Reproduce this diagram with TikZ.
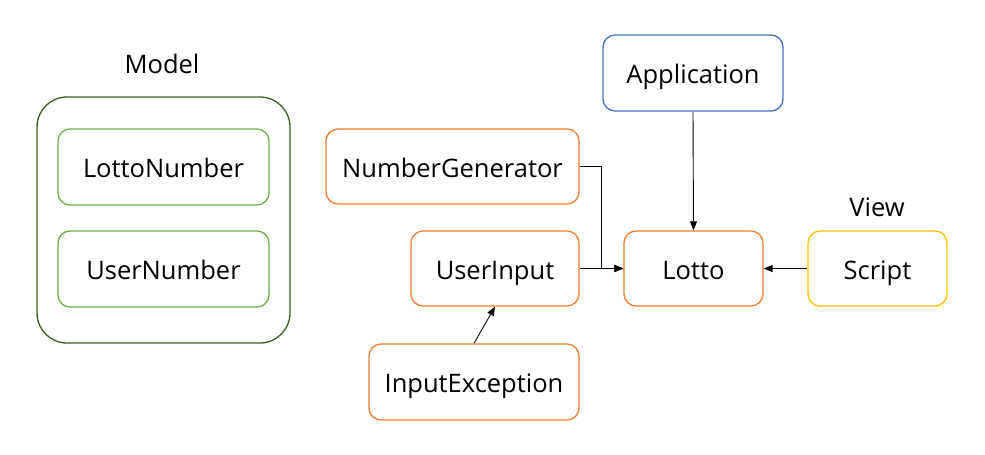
\documentclass[tikz,border=0pt]{standalone}
\usepackage{fontspec}
\setmainfont{Open Sans}
\usetikzlibrary{arrows.meta}
\definecolor{orng}{HTML}{ED7D31}
\definecolor{grn}{HTML}{70AD47}
\definecolor{dgrn}{HTML}{3B5E22}
\definecolor{blu}{HTML}{4472C4}
\definecolor{ylw}{HTML}{FFC000}
\tikzset{
  box/.style={draw, rounded corners=12pt, line width=1.3pt, inner sep=0pt, font=\fontsize{25.5}{30}\selectfont, text height=24pt, text depth=3pt},
  obox/.style={box, draw=orng},
  gbox/.style={box, draw=grn},
  lbl/.style={font=\fontsize{25.5}{30}\selectfont, inner sep=0pt},
  conn/.style={draw=black, line width=0.9pt, -{Triangle[length=9pt,width=7pt]}},
}
\begin{document}
\begin{tikzpicture}[x=1pt,y=-1pt]
\useasboundingbox (0,0) rectangle (985,455);
% Model group
\node[draw=dgrn, line width=1.3pt, rounded corners=30pt, minimum width=253pt, minimum height=246pt] (model) at (163.5,220) {};
\node[lbl] (modellbl) at (162,64) {Model};
\node[gbox, minimum width=211pt, minimum height=76pt] (lottonum) at (163.5,167) {LottoNumber};
\node[gbox, minimum width=211pt, minimum height=76pt] (usernum) at (163.5,269) {UserNumber};
% Orange
\node[obox, minimum width=253pt, minimum height=75pt] (numgen) at (452.5,166.5) {NumberGenerator};
\node[obox, minimum width=168pt, minimum height=75pt] (userinput) at (495,268.5) {UserInput};
\node[obox, minimum width=210pt, minimum height=76pt] (inputexc) at (474,382) {InputException};
\node[obox, minimum width=139pt, minimum height=75pt] (lotto) at (693.5,268.5) {Lotto};
% Application
\node[box, draw=blu, minimum width=180pt, minimum height=76pt] (app) at (693,73) {Application};
% View
\node[lbl] (viewlbl) at (877,207) {View};
\node[box, draw=ylw, minimum width=139pt, minimum height=75pt] (script) at (877.5,268.5) {Script};
% connectors
\coordinate (bend) at (601,0);
\draw[conn] (numgen.east) -- (numgen.east -| bend) -- (lotto.west -| bend) -- (lotto.west);
\draw[conn] (userinput.east) -- (lotto.west);
\draw[conn] (app.south) -- (lotto.north);
\draw[conn] (script.west) -- (lotto.east);
\draw[conn] (inputexc.north) -- (userinput.south);
\end{tikzpicture}
\end{document}
